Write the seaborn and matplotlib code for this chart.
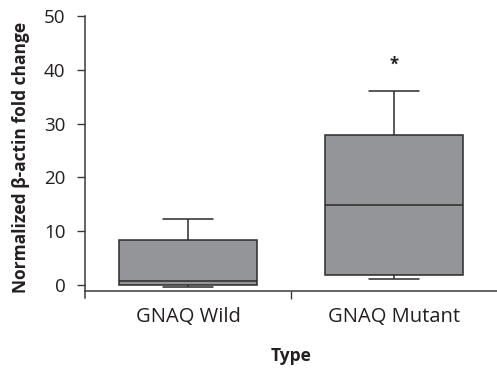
import pandas as pd
import numpy as np
import seaborn as sns
import matplotlib.pyplot as plt

# Datos (min, Q1, mediana, Q3, max)
CATEGORIAS = ["GNAQ Wild", "GNAQ Mutant"]
WILD = [-0.3, 0.0, 0.8, 8.4, 12.3]
MUTANT = [1.2, 1.9, 14.9, 27.9, 36.1]
Y_TICKS = [0, 10, 20, 30, 40, 50]
MARCA_SIG = "*"

df = pd.DataFrame({
    "Type": [CATEGORIAS[0]] * len(WILD) + [CATEGORIAS[1]] * len(MUTANT),
    "value": WILD + MUTANT,
})

sns.set_style("ticks")
plt.rcParams["font.family"] = ["Open Sans", "DejaVu Sans"]

fig = plt.figure(figsize=(4.97, 3.68), dpi=100)
ax = fig.add_axes([0.171, 0.190, 0.829, 0.7665])

sns.boxplot(
    data=df, x="Type", y="value", order=CATEGORIAS,
    color="#939598", saturation=1, width=0.667, whis=(0, 100),
    linecolor="#2b2b2b", linewidth=1.1, capwidths=0.24, ax=ax,
)

ax.set_xlim(-0.5, 1.5)
ax.set_ylim(-2.4, 50)
ax.set_yticks(Y_TICKS)
ax.spines["top"].set_visible(False)
ax.spines["right"].set_visible(False)
ax.spines["bottom"].set_position(("data", -1))
for s in ["left", "bottom"]:
    ax.spines[s].set_color("#3a3a3a")
    ax.spines[s].set_linewidth(1.1)

ax.tick_params(axis="y", length=6, width=1, pad=8, colors="#3a3a3a", labelsize=13.5,
               labelcolor="#231f20")
ax.tick_params(axis="x", which="major", length=0, pad=12, labelsize=14.5,
               labelcolor="#231f20")
ax.set_xticks([0.5], minor=True)
ax.tick_params(axis="x", which="minor", length=6, width=1, colors="#3a3a3a")

ax.text(1, 40.9, MARCA_SIG, ha="center", va="center", fontsize=12,
        fontweight="bold", color="#231f20")

ax.set_xlabel("Type", fontsize=12.5, fontweight="bold", labelpad=14, color="#231f20")
ax.set_ylabel("Normalized β-actin fold change", fontsize=12.5, fontweight="bold",
              labelpad=10, color="#231f20")

fig.savefig("out.png", dpi=100)
